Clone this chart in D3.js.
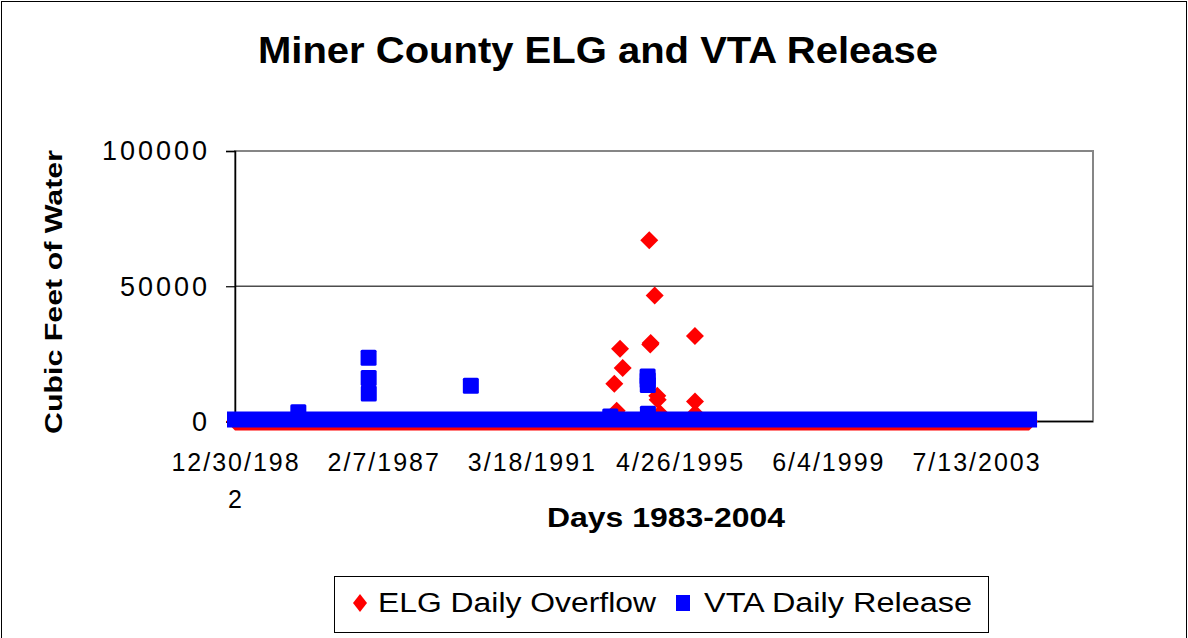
<!DOCTYPE html>
<html>
<head>
<meta charset="utf-8">
<script src="https://cdn.jsdelivr.net/npm/d3@7"></script>
<style>
  body { margin: 0; background: #fff; }
  svg { display: block; font-family: "Liberation Sans", Arial, sans-serif; }
</style>
</head>
<body>
<div id="chart"></div>
<script>
var W = 1188, H = 638;

// daily record runs from first to last day; every day not listed below is 0
var firstDay = "1982-12-30"
var lastDay = "2004-12-31"
var axisEnd = "2006-10-09"

var tickDates = ["1982-12-30", "1987-02-07", "1991-03-18", "1995-04-26", "1999-06-04", "2003-07-13"]
var yTicks = [0, 50000, 100000]

// ELG daily overflow, days above zero
var elgDates = ["1993-07-04", "1993-07-28", "1993-08-31", "1993-09-27", "1994-06-23", "1994-07-03", "1994-07-07",
  "1994-08-17", "1994-09-12", "1994-09-16", "1994-10-10", "1995-09-28", "1995-09-29", "1995-09-30"]
var elgValues = [13950, 4000, 26900, 19750, 67000, 28500, 29000,
  46550, 9500, 8000, 3000, 31600, 7400, 3000]

// VTA daily release, days above zero
var vtaDates = ["1984-10-01", "1986-09-12", "1986-09-13", "1986-09-14", "1989-07-13", "1993-05-24",
  "1994-06-06", "1994-06-07", "1994-06-08", "1994-06-09"]
var vtaValues = [2700, 22850, 15300, 9630, 12480, 1100,
  15900, 14500, 12800, 2100]

var parse = d3.timeParse("%Y-%m-%d")
var fmt = d3.timeFormat("%-m/%-d/%Y")

var svg = d3.select("#chart")
  .append("svg")
  .attr("width", W)
  .attr("height", H);

// chart area border
svg.append("rect")
  .attr("x", 1.5).attr("y", 1.5)
  .attr("width", W - 3).attr("height", H + 10)
  .attr("fill", "#fff")
  .attr("stroke", "#000")
  .attr("stroke-width", 1);

var plot = { left: 235, right: 1093, top: 151, bottom: 421.5 }

var x = d3.scaleTime()
  .domain([parse(firstDay), parse(axisEnd)])
  .range([plot.left, plot.right]);

var y = d3.scaleLinear()
  .domain([0, 100000])
  .range([plot.bottom, plot.top]);

// title
svg.append("text")
  .attr("x", 598).attr("y", 63)
  .attr("text-anchor", "middle")
  .style("font-size", "36px")
  .style("font-weight", "bold")
  .attr("textLength", 680)
  .attr("lengthAdjust", "spacingAndGlyphs")
  .text("Miner County ELG and VTA Release");

// plot frame (gray) and gridlines
svg.append("rect")
  .attr("x", plot.left).attr("y", plot.top)
  .attr("width", plot.right - plot.left).attr("height", plot.bottom - plot.top)
  .attr("fill", "#fff")
  .attr("stroke", "#868686")
  .attr("stroke-width", 2);

svg.append("g")
  .selectAll("line")
  .data(yTicks.filter(d => d > 0 && d < 100000))
  .enter()
  .append("line")
  .attr("x1", plot.left).attr("x2", plot.right)
  .attr("y1", d => y(d)).attr("y2", d => y(d))
  .attr("stroke", "#4d4d4d")
  .attr("stroke-width", 1.3);

// y axis
var yAxis = svg.append("g")
  .attr("transform", "translate(" + plot.left + ",0)")
  .call(d3.axisLeft(y).tickValues(yTicks).tickSize(9).tickPadding(16).tickFormat(d3.format("d")));
yAxis.select(".domain").attr("stroke", "#000").attr("stroke-width", 1.5);
yAxis.selectAll(".tick line").attr("stroke", "#000").attr("stroke-width", 1.2);
yAxis.selectAll("text")
  .style("font-size", "27px")
  .style("letter-spacing", "3px")
  .style("font-family", "Liberation Sans, Arial, sans-serif")
  .attr("fill", "#000")
  .attr("dy", "0.33em");

// x axis
svg.append("line")
  .attr("x1", plot.left).attr("x2", plot.right)
  .attr("y1", plot.bottom).attr("y2", plot.bottom)
  .attr("stroke", "#000")
  .attr("stroke-width", 1.5);

var xLabs = svg.append("g")
  .selectAll("text")
  .data(tickDates)
  .enter()
  .append("text")
  .attr("x", d => x(parse(d)))
  .attr("y", 471)
  .attr("text-anchor", "middle")
  .style("font-size", "25px")
  .style("letter-spacing", "2px");

xLabs.each(function(d) {
  var s = fmt(parse(d))
  var t = d3.select(this)
  // the category label wraps after nine characters
  var lines = s.length > 9 ? [s.slice(0, 9), s.slice(9)] : [s]
  lines.forEach(function(l, i) {
    t.append("tspan")
      .attr("x", x(parse(d)) + 1)
      .attr("dy", i === 0 ? 0 : 37)
      .text(l)
  })
});

svg.append("text")
  .attr("x", 666).attr("y", 527)
  .attr("text-anchor", "middle")
  .style("font-size", "27px")
  .style("font-weight", "bold")
  .attr("textLength", 238)
  .attr("lengthAdjust", "spacingAndGlyphs")
  .text("Days 1983-2004");

svg.append("text")
  .attr("transform", "translate(62,292) rotate(-90)")
  .attr("text-anchor", "middle")
  .style("font-size", "23px")
  .style("font-weight", "bold")
  .attr("textLength", 284)
  .attr("lengthAdjust", "spacingAndGlyphs")
  .text("Cubic Feet of Water");

// markers
var dH = 9, sq = 16, sqOff = -2
var x0 = x(parse(firstDay)), x1 = x(parse(lastDay)), yz = y(0)

// run of zero-valued ELG diamonds
svg.append("path")
  .attr("d", "M" + (x0 - dH) + "," + yz + "L" + x0 + "," + (yz - dH) + "L" + x1 + "," + (yz - dH) +
    "L" + (x1 + dH) + "," + yz + "L" + x1 + "," + (yz + dH) + "L" + x0 + "," + (yz + dH) + "Z")
  .attr("fill", "#ff0000");

var diamond = d3.symbol().type(d3.symbolSquare).size(2 * dH * dH)

svg.append("g")
  .selectAll("path")
  .data(elgDates)
  .enter()
  .append("path")
  .attr("d", diamond)
  .attr("transform", (d, i) => "translate(" + x(parse(d)) + "," + y(elgValues[i]) + ") rotate(45)")
  .attr("fill", "#ff0000");

// run of zero-valued VTA squares
svg.append("rect")
  .attr("x", x0 - sq / 2).attr("y", yz + sqOff - sq / 2)
  .attr("width", x1 - x0 + sq).attr("height", sq)
  .attr("fill", "#0000ff");

svg.append("g")
  .selectAll("rect")
  .data(vtaDates)
  .enter()
  .append("rect")
  .attr("x", d => x(parse(d)) - sq / 2)
  .attr("y", (d, i) => y(vtaValues[i]) + sqOff - sq / 2)
  .attr("width", sq).attr("height", sq)
  .attr("rx", 1.5)
  .attr("fill", "#0000ff");

// legend
var lg = svg.append("g");
lg.append("rect")
  .attr("x", 334.5).attr("y", 576.5)
  .attr("width", 654).attr("height", 56)
  .attr("fill", "#fff")
  .attr("stroke", "#000")
  .attr("stroke-width", 1);

lg.append("path")
  .attr("d", "M360,594L367,603L360,612L353,603Z")
  .attr("fill", "#ff0000");
lg.append("text")
  .attr("x", 378).attr("y", 612)
  .style("font-size", "27px")
  .attr("textLength", 278)
  .attr("lengthAdjust", "spacingAndGlyphs")
  .text("ELG Daily Overflow");

lg.append("rect")
  .attr("x", 676).attr("y", 595)
  .attr("width", 14).attr("height", 16)
  .attr("fill", "#0000ff");
lg.append("text")
  .attr("x", 704).attr("y", 612)
  .style("font-size", "27px")
  .attr("textLength", 268)
  .attr("lengthAdjust", "spacingAndGlyphs")
  .text("VTA Daily Release");
</script>
</body>
</html>
